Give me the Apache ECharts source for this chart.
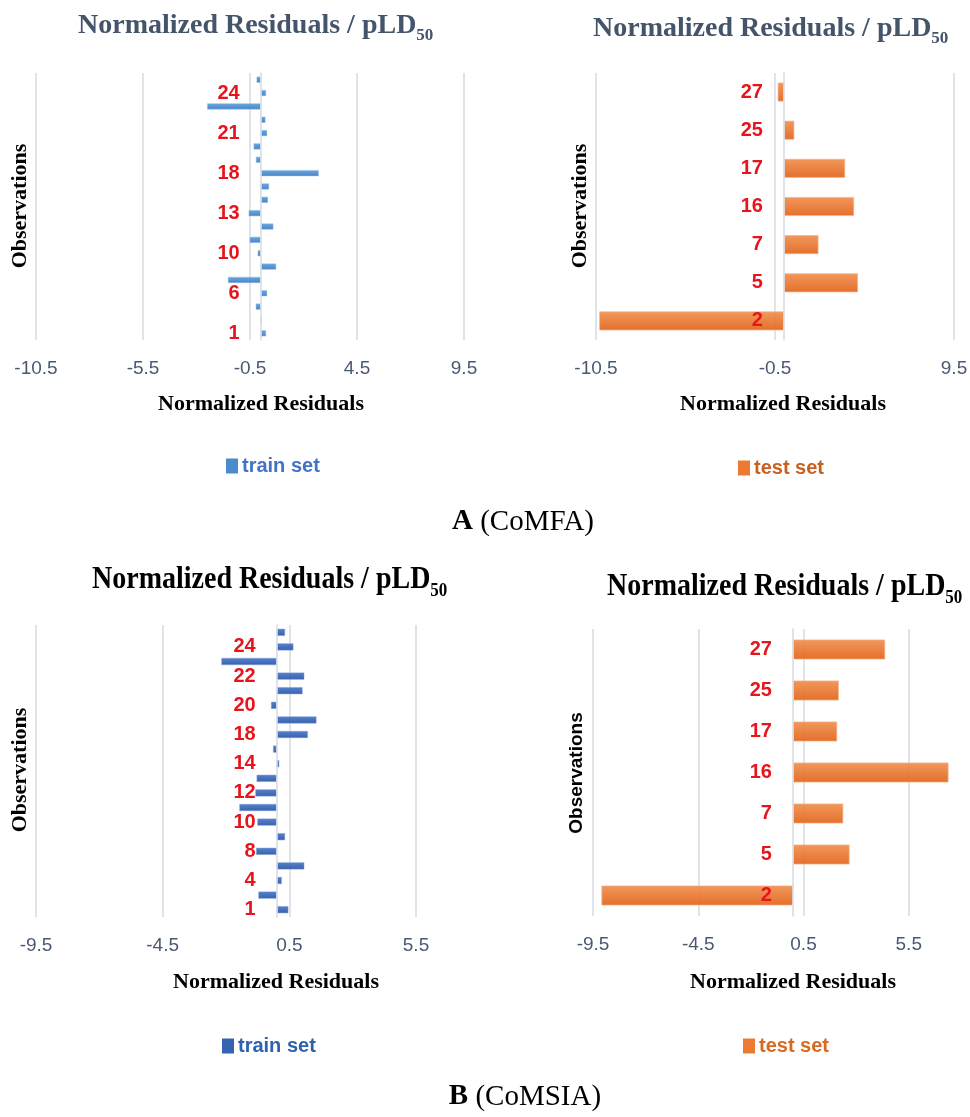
<!DOCTYPE html>
<html>
<head>
<meta charset="utf-8">
<script src="https://cdn.jsdelivr.net/npm/echarts@6/dist/echarts.min.js"></script>
<style>
html,body{margin:0;padding:0;background:#fff;}
#chart{width:970px;height:1117px;}
</style>
</head>
<body>
<div id="chart"></div>
<script>
// ---- data ----
const trainCategories = ['1','3','4','6','8','9','10','11','12','13','14','15','18','19','20','21','22','23','24','26'];
const testCategories = ['2','5','7','16','17','25','27'];
const trainA = [0.25, 0.05, -0.23, 0.3, -1.53, 0.72, -0.14, -0.51, 0.59, -0.56, 0.34, 0.39, 2.71, -0.22, -0.33, 0.3, 0.22, -2.5, 0.25, -0.19];
const testA = [-10.32, 4.14, 1.93, 3.92, 3.42, 0.58, -0.35];
const trainB = [0.46, -0.72, 0.2, 1.09, -0.81, 0.33, -0.76, -1.47, -0.84, -0.79, 0.1, -0.14, 1.23, 1.57, -0.22, 1.02, 1.09, -2.18, 0.66, 0.33];
const testB = [-9.1, 2.69, 2.39, 7.39, 2.1, 2.18, 4.38];
const ticksTrainA = [-10.5, -5.5, -0.5, 4.5, 9.5];
const ticksTestA = [-10.5, -0.5, 9.5];
const ticksTrainB = [-9.5, -4.5, 0.5, 5.5];
const ticksTestB = [-9.5, -4.5, 0.5, 5.5, 10.5];

const SERIF = '"Liberation Serif","Times New Roman",serif';
const SANS = '"Liberation Sans",Arial,sans-serif';
const GRID_COLOR = '#D9DCE4';
const TICK_COLOR = '#4A5872';
const RED = '#E8141B';

const grids = [
  {left: 36, width: 428, top: 73, height: 267, outerBoundsMode: 'none', containLabel: false},
  {left: 596, width: 358, top: 73, height: 267, outerBoundsMode: 'none', containLabel: false},
  {left: 36, width: 380, top: 625, height: 292, outerBoundsMode: 'none', containLabel: false},
  {left: 593, width: 421, top: 629, height: 287, outerBoundsMode: 'none', containLabel: false}
];

function grad(top, bottom) {
  return new echarts.graphic.LinearGradient(0, 0, 0, 1, [
    {offset: 0, color: top}, {offset: 1, color: bottom}
  ]);
}
const blueA = grad('#62A3DC', '#3E7EC2');
const blueB = grad('#4B7ACB', '#2F59A6');
const orange = grad('#F0904F', '#E2651C');

function xAxisFor(gridIndex, ticks) {
  return {
    type: 'value', gridIndex: gridIndex,
    min: ticks[0], max: ticks[ticks.length - 1], interval: ticks[1] - ticks[0],
    axisLine: {show: false}, axisTick: {show: false},
    splitLine: {show: true, lineStyle: {color: GRID_COLOR, width: 1.6}},
    axisLabel: {color: TICK_COLOR, fontSize: 19, fontFamily: SANS, margin: 19,
      formatter: v => String(Math.round(v * 10) / 10)}
  };
}
// category axis placed at the value axis' zero (shift measured from grid's left edge)
function yAxisFor(gridIndex, cats, interval, ticks) {
  const g = grids[gridIndex];
  const zeroShift = (0 - ticks[0]) / (ticks[ticks.length - 1] - ticks[0]) * g.width;
  return {
    type: 'category', gridIndex: gridIndex, data: cats, z: 5,
    offset: -zeroShift,
    axisLine: {show: true, onZero: false, lineStyle: {color: GRID_COLOR, width: 1.6}},
    axisTick: {show: false},
    axisLabel: {interval: interval, color: RED, fontSize: 20, fontWeight: 'bold', fontFamily: SANS, margin: 21}
  };
}

function titleText(x, y, color, condensed) {
  return {
    type: 'text', x: x, y: y, scaleX: 1, scaleY: condensed ? 1.12 : 1,
    style: {
      text: '{m|Normalized Residuals / pLD}{s|50}',
      textAlign: 'left', textVerticalAlign: 'middle',
      rich: {
        m: {fontFamily: SERIF, fontWeight: 'bold', fontSize: 28, fill: color, color: color},
        s: {fontFamily: SERIF, fontWeight: 'bold', fontSize: 17, fill: color, color: color, padding: [20, 0, 0, 0]}
      }
    }
  };
}
function vText(x, y, family, size) {
  return {
    type: 'text', x: x, y: y, rotation: Math.PI / 2,
    style: {text: 'Observations', font: 'bold ' + size + 'px ' + family, fill: '#000',
      textAlign: 'center', textVerticalAlign: 'middle'}
  };
}
function hText(x, y, text, size) {
  return {
    type: 'text', x: x, y: y,
    style: {text: text, font: 'bold ' + size + 'px ' + SERIF, fill: '#000',
      textAlign: 'center', textVerticalAlign: 'middle'}
  };
}
function caption(x, y, letter, rest) {
  return {
    type: 'text', x: x, y: y,
    style: {
      text: '{b|' + letter + '}{r| ' + rest + '}',
      textAlign: 'center', textVerticalAlign: 'middle',
      rich: {
        b: {fontFamily: SERIF, fontWeight: 'bold', fontSize: 29, fill: '#000', color: '#000'},
        r: {fontFamily: SERIF, fontSize: 29, fill: '#000', color: '#000'}
      }
    }
  };
}
function legendFor(left, top, name, color, textColor) {
  return {
    left: left, top: top, padding: 0, itemWidth: 12, itemHeight: 15, itemGap: 6,
    icon: 'rect',
    data: [{name: name, itemStyle: {color: color, borderWidth: 0, opacity: 1}}],
    textStyle: {color: textColor, fontSize: 20, fontWeight: 'bold', fontFamily: SANS, padding: [0, 0, 0, -1]},
    selectedMode: false
  };
}

const option = {
  backgroundColor: '#fff',
  animation: false,
  grid: grids,
  xAxis: [
    xAxisFor(0, ticksTrainA),
    xAxisFor(1, ticksTestA),
    xAxisFor(2, ticksTrainB),
    xAxisFor(3, ticksTestB)
  ],
  yAxis: [
    yAxisFor(0, trainCategories, 2, ticksTrainA),
    yAxisFor(1, testCategories, 0, ticksTestA),
    yAxisFor(2, trainCategories, 1, ticksTrainB),
    yAxisFor(3, testCategories, 0, ticksTestB)
  ],
  legend: [
    legendFor(226, 456, 'train set', '#4A8BCB', '#4472C4'),
    legendFor(738, 458, 'test set', '#EC7A33', '#C9601D'),
    legendFor(222, 1036, 'train set ', '#3562B2', '#2E62AE'),
    legendFor(743, 1036, 'test set ', '#EC7A33', '#D9691F')
  ],
  series: [
    {name: 'train set', type: 'bar', xAxisIndex: 0, yAxisIndex: 0, data: trainA, barWidth: 6,
      itemStyle: {color: blueA, borderColor: '#8DBCE6', borderWidth: 0.5, opacity: 0.95}},
    {name: 'test set', type: 'bar', xAxisIndex: 1, yAxisIndex: 1, data: testA, barWidth: 19,
      itemStyle: {color: orange, borderColor: '#F6B48C', borderWidth: 0.8, opacity: 0.93}},
    {name: 'train set ', type: 'bar', xAxisIndex: 2, yAxisIndex: 2, data: trainB, barWidth: 7,
      itemStyle: {color: blueB, borderColor: '#7E9FD8', borderWidth: 0.5, opacity: 0.95}},
    {name: 'test set ', type: 'bar', xAxisIndex: 3, yAxisIndex: 3, data: testB, barWidth: 20,
      itemStyle: {color: orange, borderColor: '#F6B48C', borderWidth: 0.8, opacity: 0.93}}
  ],
  graphic: [
    titleText(78, 26, '#44546A', false),
    titleText(593, 29, '#44546A', false),
    titleText(92, 580, '#000000', true),
    titleText(607, 587, '#000000', true),
    vText(20, 206, SERIF, 22),
    vText(580, 206, SERIF, 22),
    vText(20, 770, SERIF, 22),
    vText(577, 773, SANS, 19),
    hText(261, 404, 'Normalized Residuals', 22),
    hText(783, 404, 'Normalized Residuals', 22),
    hText(276, 982, 'Normalized Residuals', 22),
    hText(793, 982, 'Normalized Residuals', 22),
    caption(523, 522, 'A', '(CoMFA)'),
    caption(525, 1097, 'B', '(CoMSIA)')
  ]
};

const chart = echarts.init(document.getElementById('chart'), null, {renderer: 'canvas'});
chart.setOption(option);
</script>
</body>
</html>
